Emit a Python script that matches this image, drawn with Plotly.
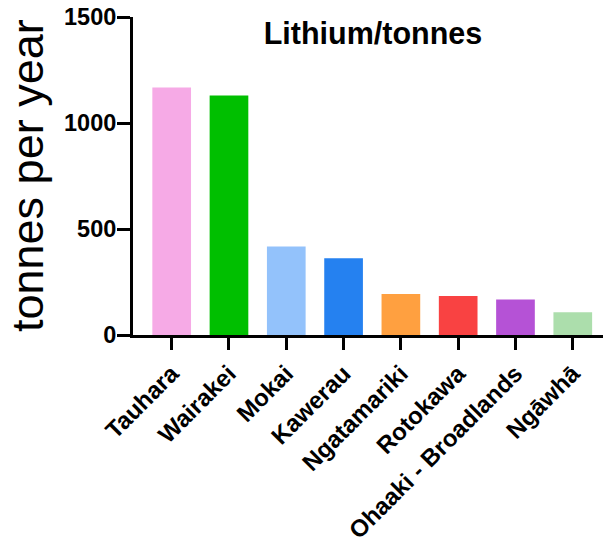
import plotly.graph_objects as go

sites = ["Tauhara", "Wairakei", "Mokai", "Kawerau", "Ngatamariki",
         "Rotokawa", "Ohaaki - Broadlands", "Ngāwhā"]
lithium = [1168, 1130, 418, 362, 193, 184, 168, 107]
colors = ["#F6AAE6", "#00BF00", "#93C2FB", "#2581F0", "#FFA040",
          "#F94242", "#B552D6", "#ACDEAC"]
y_ticks = [0, 500, 1000, 1500]
y_title = "tonnes per year"

FONT = "Liberation Sans, Arial, sans-serif"

# the page body has an 8px margin, so the figure is laid out 8px smaller
W, H = 603, 531

fig = go.Figure(go.Bar(
    x=list(range(len(sites))), y=lithium,
    marker=dict(color=colors, line=dict(width=0)),
    width=0.675,
))

fig.update_layout(
    width=W, height=H,
    margin=dict(l=125, r=0, t=9, b=204, autoexpand=False),
    paper_bgcolor="white", plot_bgcolor="white",
    showlegend=False,
    title=dict(text="<b>Lithium/tonnes</b>", x=365/W, xanchor="center",
               y=1-25/H, yanchor="middle", yref="container",
               font=dict(family=FONT, size=30.5, color="black")),
    annotations=[dict(
        text=y_title, textangle=-90, showarrow=False,
        xref="paper", yref="paper", x=0, y=0.5,
        xanchor="center", yanchor="middle", xshift=-106,
        font=dict(family=FONT, size=45, color="black"),
    )],
)
fig.update_xaxes(
    range=[-0.675, 7.667], automargin=False,
    tickmode="array", tickvals=list(range(len(sites))), ticktext=sites,
    tickangle=-45, ticklabeloverflow="allow",
    tickfont=dict(family=FONT, size=24, color="black", weight="bold"),
    showline=True, linecolor="black", linewidth=3,
    ticks="outside", ticklen=12, tickwidth=3, tickcolor="black",
    showgrid=False, zeroline=False,
)
fig.update_yaxes(
    range=[0, 1500], automargin=False,
    tickmode="array", tickvals=y_ticks, ticktext=[str(v) for v in y_ticks],
    ticklabeloverflow="allow", ticklabelstandoff=-4,
    tickfont=dict(family=FONT, size=23.5, color="black", weight="bold"),
    showline=True, linecolor="black", linewidth=3,
    ticks="outside", ticklen=13, tickwidth=3, tickcolor="black",
    showgrid=False, zeroline=False,
)

fig.write_html("out.html")
